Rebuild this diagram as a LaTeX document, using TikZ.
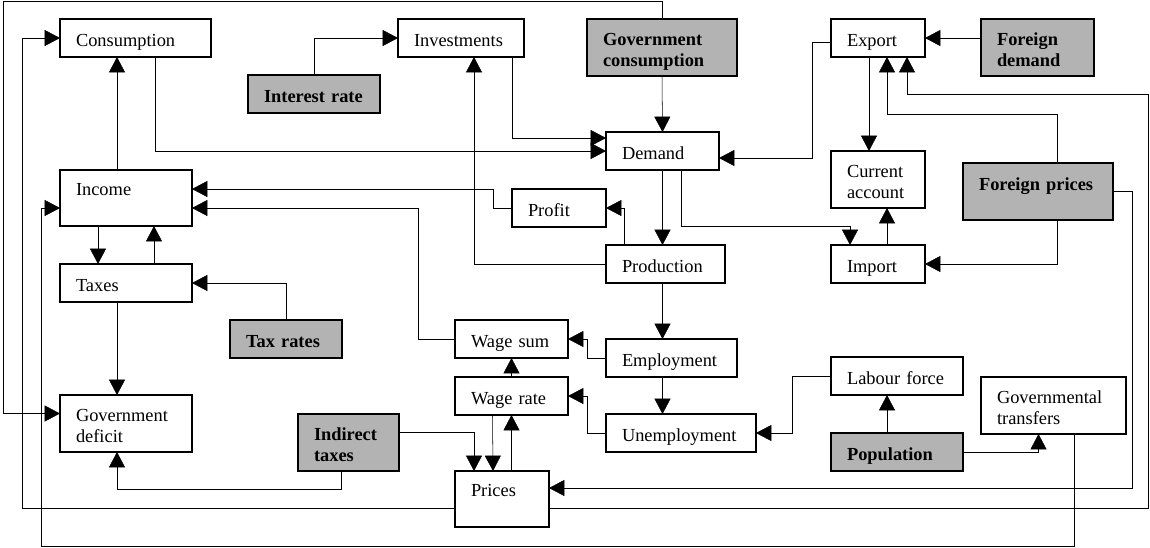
\documentclass[tikz,border=0pt]{standalone}
\usepackage{fontspec}
\setmainfont{Liberation Serif}
\usepackage{tikz}
\usetikzlibrary{arrows.meta,backgrounds,calc}
\definecolor{exogray}{RGB}{179,179,179}
\hyphenpenalty=10000

\begin{document}
\begin{tikzpicture}[x=0.75pt,y=-0.75pt,line width=1.05pt,>={Triangle[length=11.5pt,width=12pt]}]
    % `block' is a model variable, `given' an exogenous (grey) one.
    % `one', `two' and `tall' fix the height of a box and where its text sits.
    \tikzstyle{block} = [draw,fill=white,anchor=north west,align=left,inner xsep=12pt,inner ysep=0pt,outer sep=0pt,font=\fontsize{13.8pt}{15.75pt}\selectfont]
    \tikzstyle{given} = [block,fill=exogray,font=\fontsize{13.8pt}{15.75pt}\selectfont\bfseries]
    \tikzstyle{one} = [text height=20.25pt,text depth=8.25pt]
    \tikzstyle{two} = [text height=19.5pt,text depth=23.25pt]
    \tikzstyle{tall} = [text height=18.75pt,text depth=23.25pt]
    \useasboundingbox (0,0) rectangle (1150,547);
    %
    \node[block,one,text width=89.25pt] (cons) at (60,19) {Consumption};
    \node[block,one,text width=70.5pt] (inv) at (398,19) {Investments};
    \node[given,one,text width=75pt] (intr) at (248,75) {Interest~rate};
    \node[given,two,text width=88.5pt] (gcons) at (587,19) {Government\\consumption};
    \node[block,one,text width=60.75pt] (dem) at (606,132) {Demand};
    \node[block,one,text width=46.5pt] (exp) at (831,19) {Export};
    \node[given,two,text width=60.75pt] (fdem) at (981,19) {Foreign\\demand};
    \node[block,two,text width=46.5pt] (cacc) at (831,151) {Current\\account};
    \node[given,text height=20.25pt,text depth=22.5pt,text width=88.5pt] (fpr) at (963,163) {Foreign~prices};
    \node[block,one,text width=46.5pt] (imp) at (831,245) {Import};
    \node[block,one,text width=75pt] (lab) at (831,357) {Labour~force};
    \node[block,two,text width=84.75pt] (gtr) at (981,377) {Governmental\\transfers};
    \node[given,one,text width=75pt] (pop) at (831,433) {Population};
    \node[block,tall,text width=75pt] (inc) at (60,170) {Income};
    \node[block,one,text width=75pt] (tax) at (60,264) {Taxes};
    \node[given,one,text width=60pt] (trat) at (230,320) {Tax~rates};
    \node[block,two,text width=75pt] (gdef) at (60,395) {Government\\deficit};
    \node[given,two,text width=51.75pt] (itax) at (298,414) {Indirect\\taxes};
    \node[block,one,text width=46.5pt] (prof) at (512,189) {Profit};
    \node[block,one,text width=65.25pt] (prod) at (606,245) {Production};
    \node[block,one,text width=60.75pt] (wsum) at (455,320) {Wage~sum};
    \node[block,one,text width=74.25pt] (empl) at (606,339) {Employment};
    \node[block,one,text width=60.75pt] (wrat) at (455,377) {Wage~rate};
    \node[block,one,text width=88.5pt] (unem) at (606,414) {Unemployment};
    \node[block,tall,text width=46.5pt] (pri) at (455,471) {Prices};
    %
    \begin{pgfonlayer}{background}
        % Demand side.
        \draw[->] (intr.north) |- (inv.west);
        \draw[->] ($(inv.south east)+(-12,0)$) |- ($(dem.west)+(0,-13)$);
        \draw[->] ($(cons.south west)+(95,0)$) |- (dem.west);
        \draw[->] (gcons.south) -- (dem.north);
        \draw[->] ($(exp.west)+(0,4)$) -| ($(dem.east)+(93,7)$) -- ($(dem.east)+(0,7)$);
        \draw[->] ($(exp.south)+(-9,0)$) -- ($(cacc.north)+(-9,0)$);
        \draw[->] (exp.east -| fdem.west) -- (exp.east);
        \draw[->] ($(fpr.north)+(19,0)$) |- ($(exp.south)+(9,57)$) -- ($(exp.south)+(9,0)$);
        \draw[->] ($(fpr.south)+(19,0)$) |- (imp.east);
        \draw[->] (fpr.east) -- ++(19,0) |- ($(pri.east)+(0,-11)$);
        \draw[->] ($(dem.south)+(19,0)$) |- ($(imp.north)+(-28,-19)$) -- ($(imp.north)+(-28,0)$);
        \draw[->] ($(imp.north)+(9,0)$) -- ($(cacc.south)+(9,0)$);
        % Production and income.
        \draw[->] (dem.south) -- (dem.south |- prod.north);
        \draw[->] ($(prod.north)+(-41,0)$) |- (prof.east);
        \draw[->] (prod.west) -| ($(inv.south)+(13,0)$);
        \draw[->] (prof.west) -- ++(-19,0) |- ($(inc.east)+(0,-9)$);
        \draw[->] (wsum.west) -- ++(-37,0) |- ($(inc.east)+(0,10)$);
        \draw[->] (dem.south |- prod.south) -- (dem.south |- empl.north);
        \draw[->] (empl.west) -- ++(-19,0) |- (wsum.east);
        \draw[->] (dem.south |- empl.south) -- (dem.south |- unem.north);
        \draw[->] (unem.west) -- ++(-19,0) |- (wrat.east);
        \draw[->] (lab.west) -| ($(unem.east)+(36,0)$) -- (unem.east);
        \draw[->] ($(pop.north)+(-10,0)$) -- ($(lab.south)+(-10,0)$);
        \draw[->] (pop.east) -| ($(gtr.south)+(-15,0)$);
        % Wages and prices.
        \draw[->] (wrat.north) -- (wsum.south);
        \draw[->] ($(wrat.south)+(-19,0)$) -- ($(pri.north)+(-9,0)$);
        \draw[->] ($(pri.north)+(9.5,0)$) -- (wrat.south);
        \draw[->] ($(itax.east)+(0,-10)$) -| ($(pri.north)+(-28,0)$);
        \draw[->] ($(itax.south)+(-7,0)$) |- ($(gdef.south)+(-9,37)$) -- ($(gdef.south)+(-9,0)$);
        % Taxes and government.
        \draw[->] ($(inc.south)+(-28,0)$) -- ($(tax.north)+(-28,0)$);
        \draw[->] ($(tax.north)+(28,0)$) -- ($(inc.south)+(28,0)$);
        \draw[->] ($(inc.north)+(-9,0)$) -- ++(0,-113);
        \draw[->] (trat.north) |- (tax.east);
        \draw[->] ($(tax.south)+(-9,0)$) -- ($(gdef.north)+(-9,0)$);
        % Long loops round the edge.
        \draw[->] (gcons.north) -- ++(0,-18) -| ($(gdef.west)+(-57,-10)$) -- ($(gdef.west)+(0,-10)$);
        \draw[->] ($(pri.west)+(0,9)$) -| ($(cons.west)+(-38,0)$) -- (cons.west);
        \draw[->] ($(pri.east)+(0,9)$) -| (1148,94) -| ($(exp.south)+(29,0)$);
        \draw[->] ($(gtr.south)+(21,0)$) -- ++(0,112) -| ($(inc.west)+(-19,10)$) -- ($(inc.west)+(0,10)$);
    \end{pgfonlayer}
\end{tikzpicture}
\end{document}
